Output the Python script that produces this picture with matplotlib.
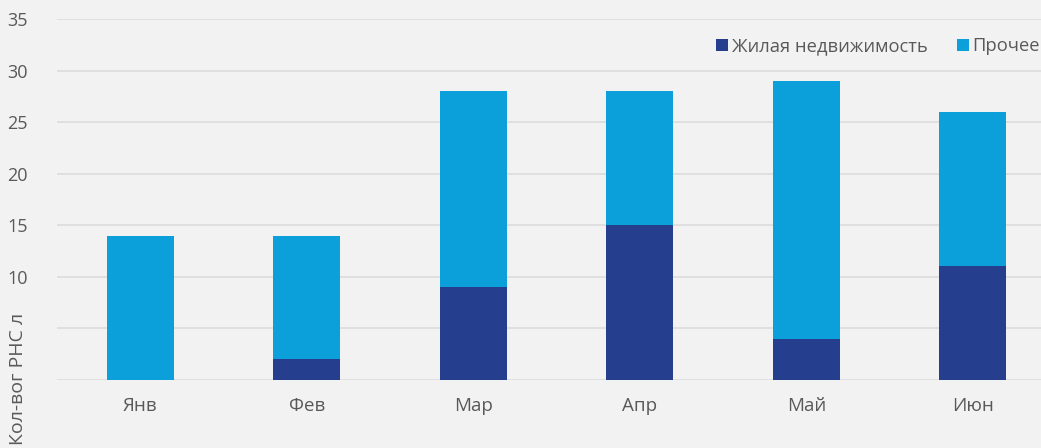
import matplotlib.pyplot as plt
import numpy as np

plt.rcParams['font.family'] = ['Open Sans', 'DejaVu Sans']

months = ['Янв', 'Фев', 'Мар', 'Апр', 'Май', 'Июн']
housing = [0, 2, 9, 15, 4, 11]
other = [14, 12, 19, 13, 25, 15]
yticks = [0, 5, 10, 15, 20, 25, 30, 35]
ytick_labels = ['', '', '10', '15', '20', '25', '30', '35']

bg = '#f2f2f2'
c_housing = '#253f8e'
c_other = '#0ba0da'
txt = '#595959'

fig = plt.figure(figsize=(10.41, 4.48), dpi=100, facecolor=bg)
ax = fig.add_axes([0.0548, 0.152, 0.9596, 0.8056], facecolor=bg)

x = np.arange(len(months))
ax.bar(x, housing, width=0.4, color=c_housing, label='Жилая недвижимость', zorder=3)
ax.bar(x, other, width=0.4, bottom=housing, color=c_other, label='Прочее', zorder=3)

ax.set_xlim(-0.5, len(months) - 0.5)
ax.set_ylim(0, 35)
ax.set_yticks(yticks)
ax.set_yticklabels(ytick_labels)
ax.set_xticks(x)
ax.set_xticklabels(months)
ax.tick_params(axis='both', length=0, colors=txt, labelsize=13)
ax.tick_params(axis='x', pad=12, labelsize=13.5)
ax.tick_params(axis='y', pad=21)
ax.grid(axis='y', color='#dcdcdc', linewidth=1.2, zorder=0)
for s in ax.spines.values():
    s.set_visible(False)

fig.text(0.0173, 0.006, 'Кол-вог РНС л', rotation=90, ha='center', va='bottom',
         color=txt, fontsize=14)

fig.legend(loc='upper right', bbox_to_anchor=(1.015, 0.954), ncol=2, frameon=False,
           fontsize=13.2, labelcolor=txt, handlelength=0.65, handleheight=0.65,
           handletextpad=0.2, columnspacing=1.6)

fig.savefig('out.png', dpi=100, facecolor=bg)
